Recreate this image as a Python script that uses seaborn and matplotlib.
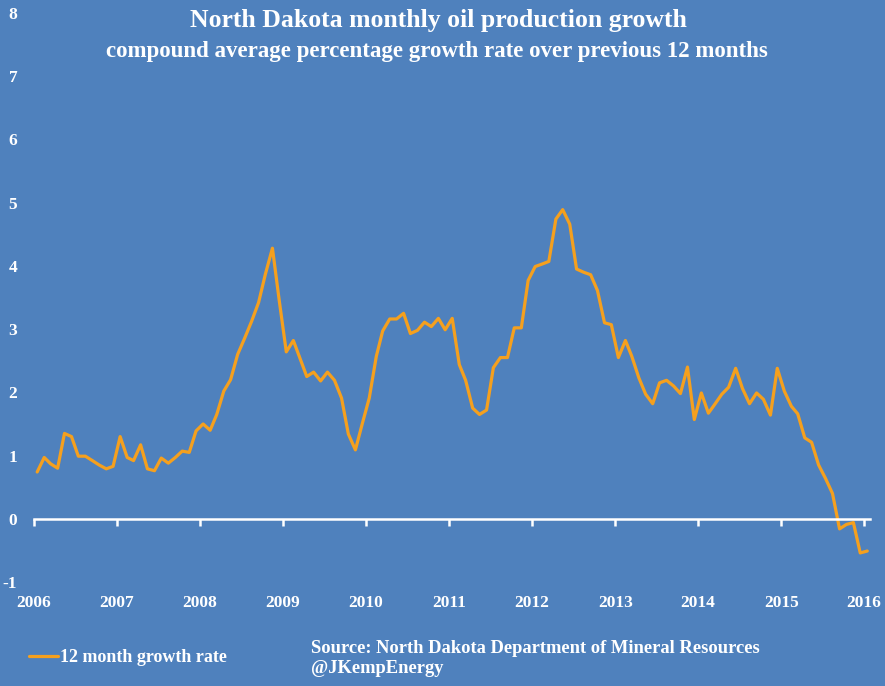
import pandas as pd
import matplotlib
matplotlib.use("Agg")
import matplotlib.pyplot as plt
import matplotlib.dates as mdates
import seaborn as sns

# 12 month compound growth rate, Jan 2006 .. Jan 2016
growth = [
    0.74, 0.97, 0.87, 0.80, 1.35, 1.30, 0.99, 0.99, 0.92, 0.85, 0.79, 0.83,   # 2006
    1.30, 0.97, 0.92, 1.17, 0.79, 0.76, 0.96, 0.88, 0.97, 1.07, 1.05, 1.39,   # 2007
    1.50, 1.40, 1.65, 2.02, 2.20, 2.60, 2.85, 3.12, 3.42, 3.87, 4.28, 3.45,   # 2008
    2.64, 2.82, 2.55, 2.25, 2.32, 2.18, 2.32, 2.19, 1.91, 1.34, 1.09, 1.50,   # 2009
    1.91, 2.57, 2.97, 3.16, 3.16, 3.25, 2.93, 2.98, 3.11, 3.04, 3.17, 2.99,   # 2010
    3.17, 2.44, 2.19, 1.75, 1.65, 1.72, 2.39, 2.55, 2.55, 3.02, 3.02, 3.77,   # 2011
    3.99, 4.03, 4.07, 4.74, 4.89, 4.66, 3.95, 3.90, 3.86, 3.61, 3.10, 3.07,   # 2012
    2.55, 2.82, 2.57, 2.23, 1.97, 1.82, 2.15, 2.19, 2.10, 1.98, 2.40, 1.57,   # 2013
    1.99, 1.67, 1.81, 1.97, 2.08, 2.38, 2.06, 1.82, 1.99, 1.89, 1.64, 2.38,   # 2014
    2.02, 1.78, 1.66, 1.28, 1.21, 0.85, 0.64, 0.40, -0.16, -0.09, -0.06, -0.54,  # 2015
    -0.51,                                                                    # 2016
]
months = pd.date_range("2006-01-01", periods=len(growth), freq="MS") + pd.Timedelta(days=14)
y_ticks = list(range(-1, 9))

bg = "#4F81BD"
orange = "#F5A01E"

sns.set_style("white")
plt.rcParams["font.family"] = ["Liberation Serif", "DejaVu Serif"]
plt.rcParams["axes.unicode_minus"] = False

df = pd.DataFrame({"month": months, "growth": growth})

fig = plt.figure(figsize=(8.85, 6.86), dpi=100, facecolor=bg)
ax = fig.add_axes([34 / 885, 1 - 582 / 686, (870 - 34) / 885, (582 - 13) / 686])
ax.set_facecolor(bg)

sns.lineplot(data=df, x="month", y="growth", color=orange, linewidth=2.3,
             label="12 month growth rate", legend=False, ax=ax)

ax.set_xlim(pd.Timestamp("2006-01-01"), pd.Timestamp("2016-01-27"))
ax.set_ylim(-1, 8)
ax.set_yticks(y_ticks)
ax.xaxis.set_major_locator(mdates.YearLocator())
ax.xaxis.set_major_formatter(mdates.DateFormatter("%Y"))
ax.set_xlabel("")
ax.set_ylabel("")

for side in ["left", "right", "top"]:
    ax.spines[side].set_visible(False)
ax.spines["bottom"].set_position(("data", 0))
ax.spines["bottom"].set_color("white")
ax.spines["bottom"].set_linewidth(1.8)
ax.tick_params(axis="x", bottom=True, colors="white", direction="out", length=5,
               width=1.8, pad=50, labelsize=12.5)
ax.tick_params(axis="y", left=False, colors="white", length=0, pad=12, labelsize=12.5)
for lab in ax.get_xticklabels() + ax.get_yticklabels():
    lab.set_fontweight("bold")
ax.grid(False)

fig.text(0.495, 1 - 21 / 686, "North Dakota monthly oil production growth",
         ha="center", va="center", color="white", fontsize=18.5, fontweight="bold")
fig.text(0.494, 1 - 52 / 686, "compound average percentage growth rate over previous 12 months",
         ha="center", va="center", color="white", fontsize=16.5, fontweight="bold")

handles, labels = ax.get_legend_handles_labels()
leg = fig.legend(handles, labels, loc="center left", bbox_to_anchor=(0.033, 1 - 658 / 686),
                 frameon=False, fontsize=13, handlelength=1.6, handletextpad=0.1,
                 borderpad=0, borderaxespad=0)
for t in leg.get_texts():
    t.set_color("white")
    t.set_fontweight("bold")

fig.text(311 / 885, 1 - 640 / 686,
         "Source: North Dakota Department of Mineral Resources\n@JKempEnergy",
         ha="left", va="top", color="white", fontsize=13.3, fontweight="bold",
         linespacing=1.2)

fig.savefig("out.png", dpi=100, facecolor=bg)
plt.close(fig)
